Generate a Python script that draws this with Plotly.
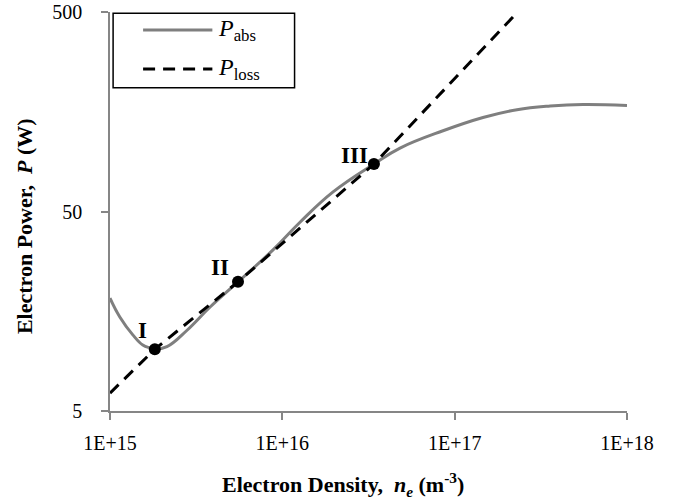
import math
import plotly.graph_objects as go

# Electron density (m^-3) and absorbed power (W)
ne_abs = [1.0e15, 1.14e15, 1.36e15, 1.55e15, 1.71e15, 1.82e15, 2.14e15, 2.80e15,
          3.81e15, 5.53e15, 8.83e15, 1.27e16, 1.97e16, 3.40e16, 4.82e16, 8.56e16,
          1.46e17, 2.30e17, 3.58e17, 5.55e17, 1.0e18]
p_abs = [18.4, 14.8, 12.0, 10.7, 10.35, 10.2, 10.5, 12.7,
         16.6, 22.2, 32.1, 44.3, 62.7, 86.5, 104, 127,
         148, 162, 169, 172, 170]

# Electron density and power loss
ne_loss = [1.0e15, 1.82e15, 5.53e15, 3.40e16, 2.32e17]
p_loss = [6.15, 10.2, 22.2, 86.5, 500]

# Equilibrium points
pt_labels = ["I", "II", "III"]
pt_ne = [1.82e15, 5.53e15, 3.40e16]
pt_p = [10.2, 22.2, 86.5]

x_ticks = [1e15, 1e16, 1e17, 1e18]
x_ticktext = ["1E+15", "1E+16", "1E+17", "1E+18"]
y_ticks = [5, 50, 500]

legend_names = ["<i>P</i><sub>abs</sub>", "<i>P</i><sub>loss</sub>"]
x_title = "<b>Electron Density,  <i>n<sub>e</sub></i> (m<sup>-3</sup>)</b>"
y_title = "<b>Electron Power,  <i>P</i> (W)</b>"

SERIF = "Liberation Serif, Times New Roman, serif"
AXIS_GRAY = "#868686"
ABS_COLOR = "#7f7f7f"

fig = go.Figure()
fig.add_trace(go.Scatter(
    x=ne_abs, y=p_abs, mode="lines", name=legend_names[0], showlegend=False,
    line=dict(color=ABS_COLOR, width=3, shape="spline", smoothing=1.2)))
fig.add_trace(go.Scatter(
    x=ne_loss, y=p_loss, mode="lines", name=legend_names[1], showlegend=False,
    line=dict(color="black", width=3, dash="12px,8px")))
fig.add_trace(go.Scatter(
    x=pt_ne, y=pt_p, mode="markers", showlegend=False,
    marker=dict(color="black", size=12)))

shifts = [(-12, 19), (-18, 14), (-19, 9)]
for lab, xv, yv, (dx, dy) in zip(pt_labels, pt_ne, pt_p, shifts):
    fig.add_annotation(x=math.log10(xv), y=math.log10(yv), text=f"<b>{lab}</b>",
                       showarrow=False, xshift=dx, yshift=dy,
                       font=dict(family=SERIF, size=23, color="black"))

# legend box (decoration, in paper coordinates)
fig.add_shape(type="rect", xref="paper", yref="paper", x0=0.006, x1=0.357,
              y0=0.81, y1=0.997, line=dict(color="black", width=1.5),
              fillcolor="white", layer="above")
leg_y = [0.955, 0.857]
leg_styles = [dict(color=ABS_COLOR, width=3), dict(color="black", width=3, dash="12px,8px")]
for name, yy, st in zip(legend_names, leg_y, leg_styles):
    fig.add_shape(type="line", xref="paper", yref="paper", x0=0.064, x1=0.198,
                  y0=yy, y1=yy, line=st, layer="above")
    fig.add_annotation(xref="paper", yref="paper", x=0.205, y=yy, text=name,
                       xanchor="left", yanchor="middle", showarrow=False,
                       font=dict(family=SERIF, size=24, color="black"))

# axis titles
fig.add_annotation(xref="paper", yref="paper", x=0.451, y=-0.185, text=x_title,
                   xanchor="center", yanchor="middle", showarrow=False,
                   font=dict(family=SERIF, size=22, color="black"))
fig.add_annotation(xref="paper", yref="paper", x=-0.164, y=0.464, text=y_title,
                   textangle=-90, xanchor="center", yanchor="middle", showarrow=False,
                   font=dict(family=SERIF, size=22, color="black"))

fig.update_layout(
    width=685, height=502,
    margin=dict(l=110, r=58, t=12, b=91),
    paper_bgcolor="white", plot_bgcolor="white",
    font=dict(family=SERIF, size=20, color="black"),
    showlegend=False,
    xaxis=dict(type="log", range=[15, 18], tickvals=x_ticks, ticktext=x_ticktext,
               showgrid=False, zeroline=False, showline=True, linecolor=AXIS_GRAY,
               linewidth=1.5, ticks="outside", ticklen=7, tickcolor=AXIS_GRAY,
               tickwidth=1.5, tickfont=dict(family=SERIF, size=20),
               ticklabelstandoff=6, automargin=False),
    yaxis=dict(type="log", range=[math.log10(5), math.log10(500)], tickvals=y_ticks,
               ticktext=[str(v) for v in y_ticks],
               showgrid=False, zeroline=False, showline=True, linecolor=AXIS_GRAY,
               linewidth=1.5, ticks="outside", ticklen=7, tickcolor=AXIS_GRAY,
               tickwidth=1.5, tickfont=dict(family=SERIF, size=20),
               ticklabelstandoff=15, automargin=False),
)

fig.write_html("out.html")
